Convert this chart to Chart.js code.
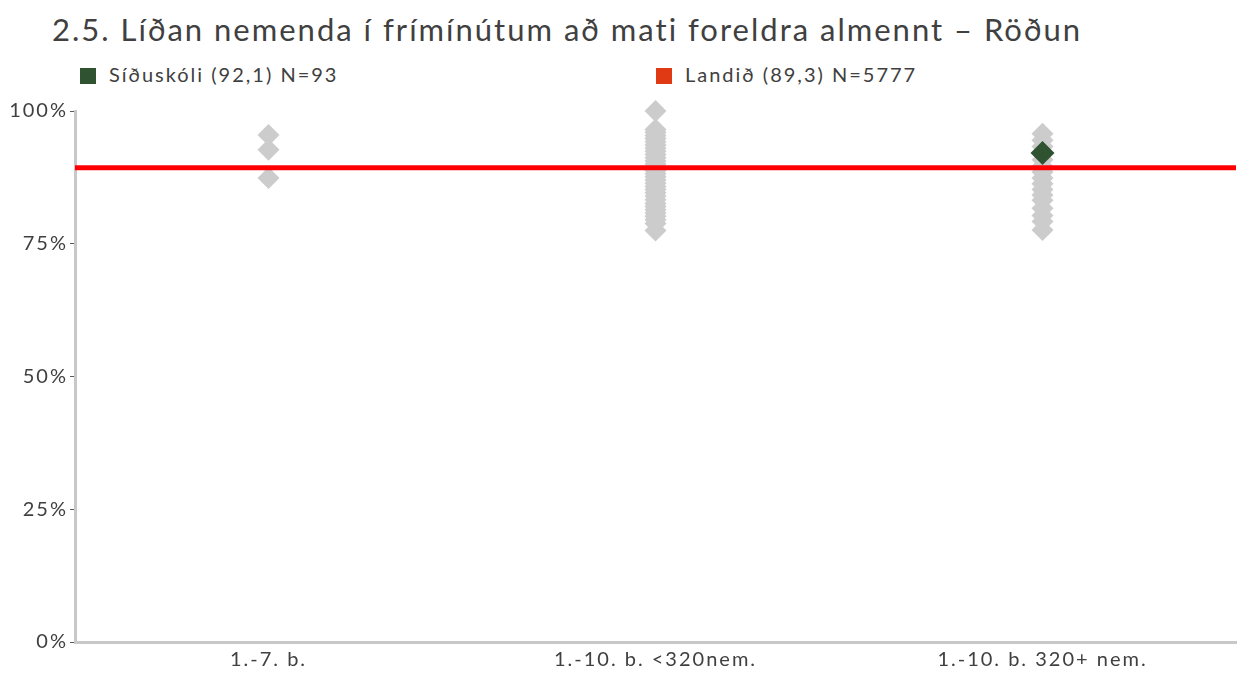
<!DOCTYPE html>
<html>
<head>
<meta charset="utf-8">
<script src="https://cdn.jsdelivr.net/npm/chart.js@4"></script>
<style>
  body { margin: 0; background: #fff; font-family: "Lato", sans-serif; color: #404040; }
  #wrap { position: relative; width: 1248px; height: 673px; }
  #title { position: absolute; left: 52px; top: 10px; font-size: 31px; letter-spacing: 2px; white-space: nowrap; }
  .leg { position: absolute; top: 62px; font-size: 20px; letter-spacing: 2px; white-space: nowrap; }
  .leg span { display: inline-block; width: 16px; height: 16px; margin-right: 13px; vertical-align: -2px; }
  canvas { position: absolute; left: 0; top: 0; }
</style>
</head>
<body>
<div id="wrap">
  <div id="title">2.5. Líðan nemenda í frímínútum að mati foreldra almennt – Röðun</div>
  <div class="leg" style="left:80px"><span style="background:#2f5230"></span>Síðuskóli (92,1) N=93</div>
  <div class="leg" style="left:656px"><span style="background:#e03a14"></span>Landið (89,3) N=5777</div>
  <canvas id="chart" width="1248" height="673"></canvas>
</div>
<script>
const categories = ["1.-7. b.", "1.-10. b. <320nem.", "1.-10. b. 320+ nem."];

// school averages per group (grey diamonds)
const group1 = [95.5, 92.7, 87.4];
const group2 = [100, 96.5, 96, 95.4, 94.8, 94.2, 93.6, 93, 92.4, 91.8, 91.2, 90.6, 90, 89.4, 88.8,
  88.2, 87.6, 87, 86.4, 85.8, 85.2, 84.6, 84, 83.3, 82.6, 82, 81.4, 80.8, 80.2, 79.5, 78.8, 77.5];
const group3 = [95.7, 94.5, 93.3, 92.1, 90.8, 89.6, 88.5, 87.4, 86.3, 85.2, 84.2, 83.2, 81.7, 80.3, 79.2, 77.6];

const schoolName = "Síðuskóli";
const schoolGroup = "1.-10. b. 320+ nem.";
const schoolValue = 92.1;
const nationalValue = 89.3;

const yTicks = [0, 25, 50, 75, 100];

const greyPoints = [];
[group1, group2, group3].forEach((vals, i) => {
  vals.forEach((v) => greyPoints.push({ x: categories[i], y: v }));
});

const font = { family: "Lato", size: 20 };

// canvas text in the reference is spaced out a bit
const spacing = {
  id: "spacing",
  beforeInit: (chart) => { chart.ctx.letterSpacing = "2px"; },
  beforeUpdate: (chart) => { chart.ctx.letterSpacing = "2px"; },
  beforeDraw: (chart) => { chart.ctx.letterSpacing = "2px"; },
};

new Chart(document.getElementById("chart").getContext("2d"), {
  type: "line",
  plugins: [spacing],
  data: {
    labels: categories,
    datasets: [
      {
        label: schoolName,
        data: [{ x: schoolGroup, y: schoolValue }],
        showLine: false,
        pointStyle: "rectRot",
        pointRadius: 12,
        pointBackgroundColor: "#2f5230",
        pointBorderWidth: 0,
        clip: false,
        order: 0,
      },
      {
        label: "Landið",
        xAxisID: "x2",
        data: [{ x: 0, y: nationalValue }, { x: 1, y: nationalValue }],
        borderColor: "#ff0000",
        borderWidth: 5,
        pointRadius: 0,
        order: 1,
      },
      {
        label: "Skólar",
        data: greyPoints,
        showLine: false,
        pointStyle: "rectRot",
        pointRadius: 11,
        pointBackgroundColor: "#cccccc",
        pointBorderWidth: 0,
        clip: false,
        order: 2,
      },
    ],
  },
  options: {
    responsive: false,
    animation: false,
    layout: { padding: { top: 111, right: 12, left: 0, bottom: 0 } },
    plugins: { legend: { display: false }, tooltip: { enabled: false } },
    scales: {
      x: {
        type: "category",
        offset: true,
        grid: { drawOnChartArea: false, drawTicks: false },
        border: { color: "#c8c8c8", width: 3 },
        ticks: { color: "#404040", font: font, padding: 6 },
        afterFit: (s) => { s.height = 31; },
      },
      x2: { type: "linear", min: 0, max: 1, display: false },
      y: {
        min: 0,
        max: 100,
        afterBuildTicks: (s) => { s.ticks = yTicks.map((v) => ({ value: v })); },
        grid: { drawOnChartArea: false, drawTicks: true, tickLength: 5, tickColor: "#595959" },
        border: { color: "#c8c8c8", width: 3 },
        ticks: { color: "#404040", font: font, padding: 2, callback: (v) => v + "%" },
        afterFit: (s) => { s.width = 75; },
      },
    },
  },
});
</script>
</body>
</html>
